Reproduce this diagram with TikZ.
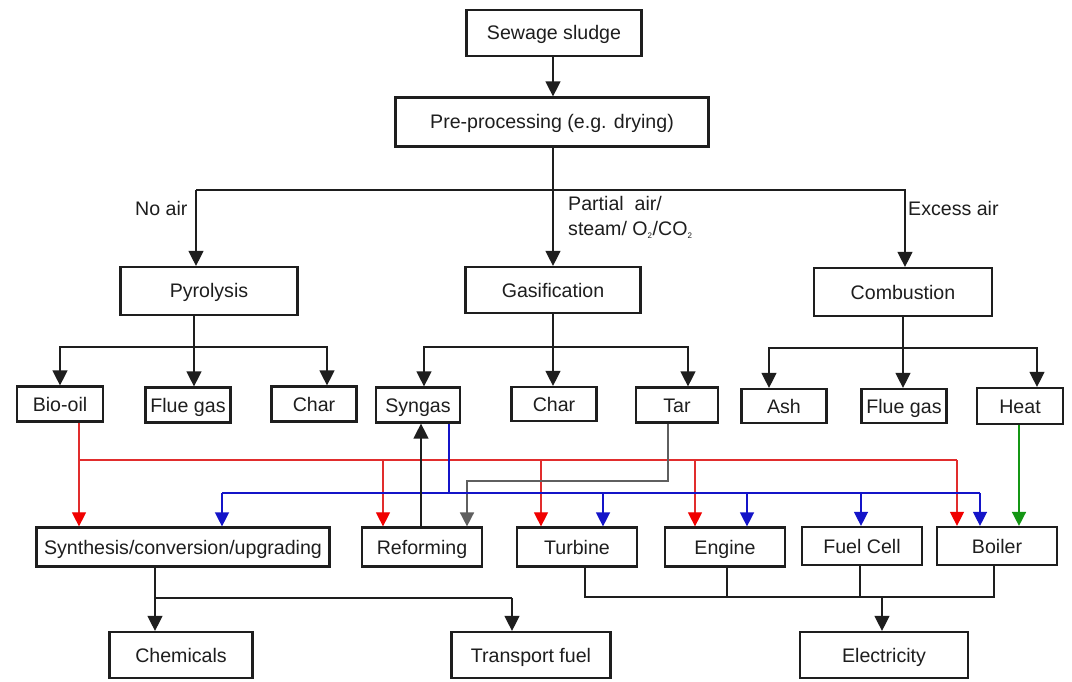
\documentclass[tikz,border=0pt]{standalone}
\usepackage{fontspec}
\setmainfont{Liberation Sans}
\usetikzlibrary{arrows.meta,calc}
\definecolor{ink}{RGB}{30,30,30}
\definecolor{fuelred}{RGB}{225,45,45}
\definecolor{tipred}{RGB}{240,0,0}
\definecolor{gasblue}{RGB}{20,20,200}
\definecolor{tarGray}{RGB}{95,95,95}
\definecolor{heatgreen}{RGB}{20,150,20}
\tikzset{
  box/.style={draw=ink, line width=2.2pt, inner sep=0pt, text=ink,
    text height=14pt, text depth=0pt,
    font=\fontsize{19.6}{22}\selectfont},
  label/.style={inner sep=0pt, text=ink, font=\fontsize{19.6}{25}\selectfont},
  link/.style={draw=ink, line width=1.3pt},
  arr/.style={link, -{Triangle[width=15pt,length=15pt]}},
  redline/.style={draw=fuelred, line width=1.1pt},
  redarr/.style={redline, -{Triangle[width=14pt,length=14pt,fill=tipred,color=tipred]}},
  blueline/.style={draw=gasblue, line width=2.4pt},
  bluearr/.style={draw=gasblue, line width=1.4pt, -{Triangle[width=14pt,length=14pt]}},
  grayarr/.style={draw=tarGray, line width=1.6pt, -{Triangle[width=14pt,length=14pt]}},
  greenarr/.style={draw=heatgreen, line width=1.6pt, -{Triangle[width=14pt,length=14pt]}},
}
\begin{document}
\begin{tikzpicture}[x=1pt,y=-1pt]
\useasboundingbox[fill=white] (0,0) rectangle (1072,682);

% ---- boxes ----
\node[box, minimum width=175pt, minimum height=46pt] (sludge) at (554,33) {Sewage sludge};
\node[box, minimum width=313pt, minimum height=49pt] (pre) at (552,122) {Pre-processing (e.g. drying)};

\node[box, minimum width=177pt, minimum height=48pt] (pyro) at (209,291) {Pyrolysis};
\node[box, minimum width=175pt, minimum height=46pt] (gasi) at (553,290) {Gasification};
\node[box, minimum width=178pt, minimum height=48pt] (comb) at (903,292) {Combustion};

\node[box, minimum width=86pt, minimum height=35pt] (biooil) at (60,404) {Bio-oil};
\node[box, minimum width=85pt, minimum height=35pt] (flue1) at (188,405) {Flue gas};
\node[box, minimum width=85pt, minimum height=35pt] (char1) at (314,404) {Char};
\node[box, minimum width=84pt, minimum height=35pt] (syngas) at (418,405) {Syngas};
\node[box, minimum width=85pt, minimum height=34pt] (char2) at (554,404) {Char};
\node[box, minimum width=82pt, minimum height=35pt] (tar) at (677,405) {Tar};
\node[box, minimum width=85pt, minimum height=34pt] (ash) at (784,406) {Ash};
\node[box, minimum width=85pt, minimum height=34pt] (flue2) at (904,406) {Flue gas};
\node[box, minimum width=86pt, minimum height=36pt] (heat) at (1020,406) {Heat};

\node[box, minimum width=293pt, minimum height=39pt] (synth) at (183,547) {Synthesis/conversion/upgrading};
\node[box, minimum width=120pt, minimum height=39pt] (reform) at (422,547) {Reforming};
\node[box, minimum width=120pt, minimum height=39pt] (turbine) at (577,547) {Turbine};
\node[box, minimum width=120pt, minimum height=39pt] (engine) at (725,547) {Engine};
\node[box, minimum width=120pt, minimum height=38pt] (fuelcell) at (862,546) {Fuel Cell};
\node[box, minimum width=120pt, minimum height=38pt] (boiler) at (997,546) {Boiler};

\node[box, minimum width=143pt, minimum height=46pt] (chem) at (181,655) {Chemicals};
\node[box, minimum width=159pt, minimum height=46pt] (transport) at (531,655) {Transport fuel};
\node[box, minimum width=168pt, minimum height=46pt] (elec) at (884,655) {Electricity};

% ---- process conditions ----
\node[label, anchor=west] (noair) at (135,208) {No air};
\node[label, anchor=west] (excess) at (908,208) {Excess air};
\node[label, anchor=north west, align=left] (partial) at (568,196)
  {Partial\ \ air/\\steam/ O\textsubscript{\fontsize{8}{8}\selectfont 2}/CO\textsubscript{\fontsize{8}{8}\selectfont 2}};

% ---- main split ----
\coordinate (sp) at (553,190);
\coordinate (pyIn) at (196,190);
\draw[arr] (sludge.south -| sp) -- (sp |- pre.north);
\draw[link] (pre.south -| sp) -- (sp);
\draw[arr] (sp) -- (sp |- gasi.north);
\draw[link] (sp) -- (pyIn);
\draw[arr] (pyIn) -- (pyIn |- pyro.north);
\draw[arr] (sp) -| ($(comb.north)+(2,0)$);

% ---- products of each route ----
\coordinate (pyJ) at (194,347);
\draw[link] (pyro.south -| pyJ) -- (pyJ);
\draw[arr] (pyJ) -| (biooil.north);
\draw[arr] (pyJ) -- (pyJ |- flue1.north);
\draw[arr] (pyJ) -| ($(char1.north)+(13,0)$);

\coordinate (gaJ) at (553,347);
\draw[link] (gasi.south -| gaJ) -- (gaJ);
\draw[arr] (gaJ) -| ($(syngas.north)+(6,0)$);
\draw[arr] (gaJ) -- (gaJ |- char2.north);
\draw[arr] (gaJ) -| ($(tar.north)+(11,0)$);

\coordinate (coJ) at (903,348);
\draw[link] (comb.south -| coJ) -- (coJ);
\draw[arr] (coJ) -| ($(ash.north)+(-15,0)$);
\draw[arr] (coJ) -- (coJ |- flue2.north);
\draw[arr] (coJ) -| ($(heat.north)+(17,0)$);

% ---- bio-oil routes (red) ----
\coordinate (r1) at (79,460);
\coordinate (r2) at (383,460);
\coordinate (r3) at (541,460);
\coordinate (r4) at (695,460);
\coordinate (r5) at (957,460);
\draw[redline] (biooil.south -| r1) -- (r1) -- (r5);
\draw[redarr] (r1) -- (r1 |- synth.north);
\draw[redarr] (r2) -- (r2 |- reform.north);
\draw[redarr] (r3) -- (r3 |- turbine.north);
\draw[redarr] (r4) -- (r4 |- engine.north);
\draw[redarr] (r5) -- (r5 |- boiler.north);

% ---- tar to reforming (gray) ----
\coordinate (t1) at (668,481);
\coordinate (t2) at (467,481);
\draw[grayarr] (tar.south -| t1) -- (t1) -- (t2) -- (t2 |- reform.north);

% ---- syngas routes (blue) ----
\coordinate (b0) at (449,493);
\coordinate (b1) at (222,493);
\coordinate (b2) at (603,493);
\coordinate (b3) at (747,493);
\coordinate (b4) at (861,493);
\coordinate (b5) at (980,493);
\draw[blueline] (syngas.south -| b0) -- (b0);
\draw[blueline] (b1) -- (b5);
\draw[bluearr] (b1) -- (b1 |- synth.north);
\draw[bluearr] (b2) -- (b2 |- turbine.north);
\draw[bluearr] (b3) -- (b3 |- engine.north);
\draw[bluearr] (b4) -- (b4 |- fuelcell.north);
\draw[bluearr] (b5) -- (b5 |- boiler.north);

% ---- reforming returns syngas ----
\coordinate (rf) at (421,500);
\draw[arr] (reform.north -| rf) -- (rf |- syngas.south);

% ---- heat to boiler (green) ----
\coordinate (hb) at (1019,480);
\draw[greenarr] (heat.south -| hb) -- (hb |- boiler.north);

% ---- final products ----
\coordinate (sy) at (155,598);
\coordinate (tf) at (512,598);
\draw[link] (synth.south -| sy) -- (sy);
\draw[arr] (sy) -- (sy |- chem.north);
\draw[link] (sy) -- (tf);
\draw[arr] (tf) -- (tf |- transport.north);

\coordinate (eL) at (585,597);
\coordinate (eM) at (882,597);
\coordinate (eR) at (994,597);
\coordinate (eE) at (727,597);
\coordinate (eF) at (860,597);
\draw[link] (turbine.south -| eL) -- (eL) -- (eR) -- (boiler.south -| eR);
\draw[link] (engine.south -| eE) -- (eE);
\draw[link] (fuelcell.south -| eF) -- (eF);
\draw[arr] (eM) -- (eM |- elec.north);
\end{tikzpicture}
\end{document}
